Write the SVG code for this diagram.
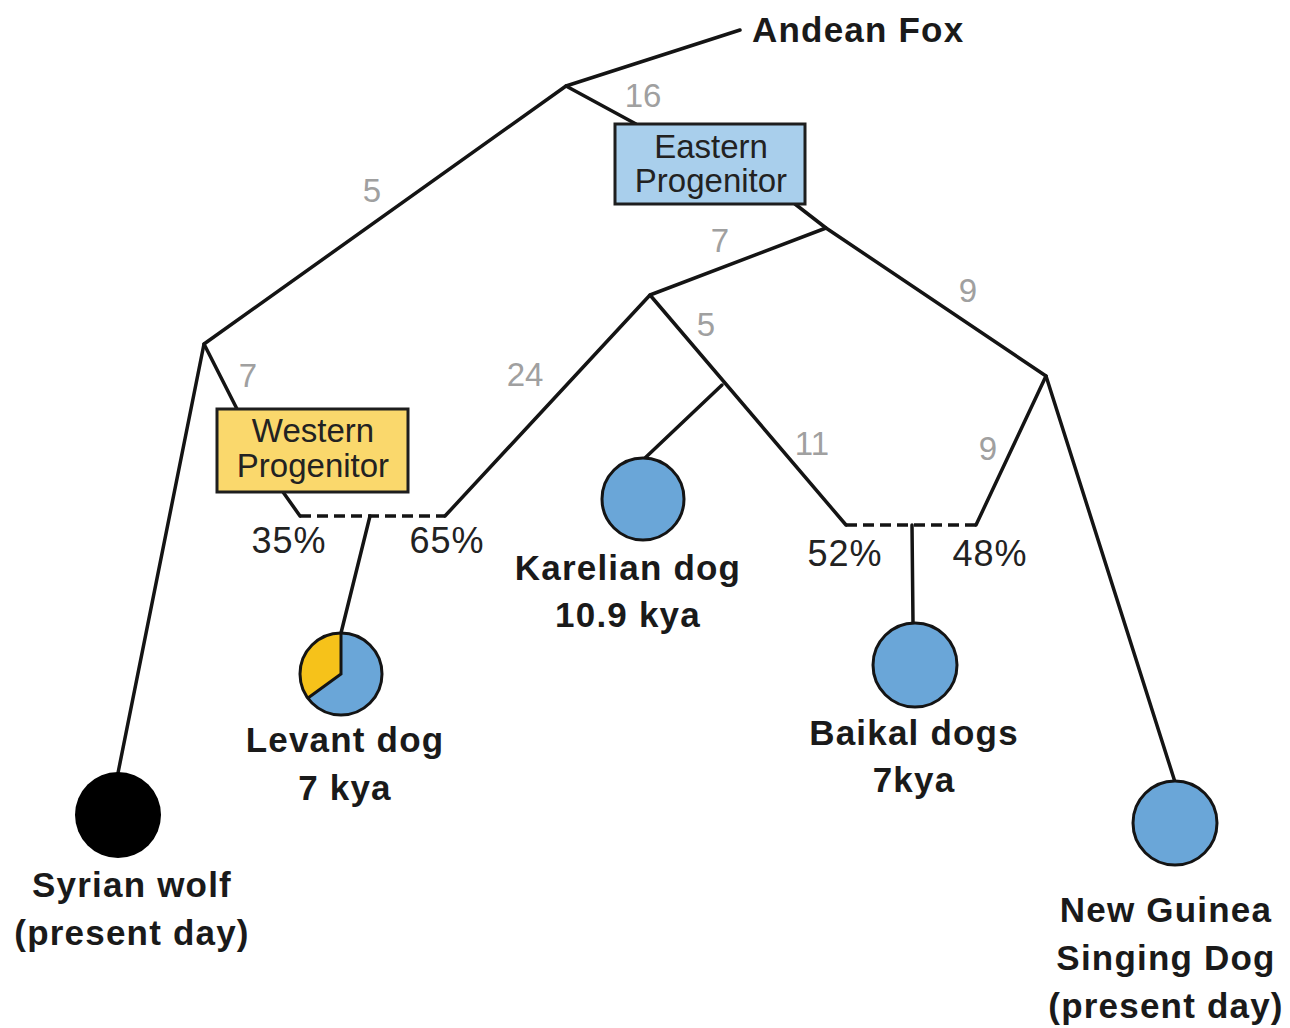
<svg xmlns="http://www.w3.org/2000/svg" width="1290" height="1028" viewBox="0 0 1290 1028">
<style>
.ln{fill:none;stroke:#141414;stroke-width:3.5;stroke-linecap:round;stroke-linejoin:round}
.ds{fill:none;stroke:#141414;stroke-width:3.5;stroke-dasharray:11 6}
.num{font-family:"Liberation Sans",Arial,sans-serif;font-size:33px;fill:#a0a0a0;text-anchor:middle}
.pct{font-family:"Liberation Sans",Arial,sans-serif;font-size:36px;fill:#222;text-anchor:middle;letter-spacing:1px}
.lab{font-family:"Liberation Sans",Arial,sans-serif;font-size:35px;font-weight:bold;fill:#1a1a1a;text-anchor:middle;letter-spacing:1.2px}
.box{font-family:"Liberation Sans",Arial,sans-serif;font-size:33px;fill:#222;text-anchor:middle}
.blue{fill:#6aa6d8;stroke:#141414;stroke-width:3}
</style>
<rect width="1290" height="1028" fill="#fff"/>
<g id="connectors">
<polyline class="ln" points="740,30 566,86 204,344 118,773"/>
<line class="ln" x1="566" y1="86" x2="636" y2="124"/>
<line class="ln" x1="204" y1="344" x2="237" y2="409"/>
<line class="ln" x1="283" y1="492" x2="300" y2="516"/>
<line class="ds" x1="300" y1="516" x2="445" y2="516"/>
<polyline class="ln" points="445,516 650,295 826,228"/>
<line class="ln" x1="370" y1="516" x2="341" y2="633"/>
<polyline class="ln" points="795,204 826,228 1046,376 1175,782"/>
<polyline class="ln" points="650,295 846,525"/>
<line class="ln" x1="722" y1="385" x2="645" y2="458"/>
<line class="ds" x1="846" y1="525" x2="976" y2="525"/>
<line class="ln" x1="976" y1="525" x2="1046" y2="376"/>
<line class="ln" x1="912" y1="525" x2="913" y2="623"/>
</g>
<g id="labels-branch">
<text class="num" x="643" y="107">16</text>
<text class="num" x="372" y="202">5</text>
<text class="num" x="720" y="252">7</text>
<text class="num" x="968" y="302">9</text>
<text class="num" x="706" y="336">5</text>
<text class="num" x="525" y="386">24</text>
<text class="num" x="248" y="387">7</text>
<text class="num" x="812" y="455">11</text>
<text class="num" x="988" y="460">9</text>
</g>
<g id="labels-pct">
<text class="pct" x="289" y="553">35%</text>
<text class="pct" x="447" y="553">65%</text>
<text class="pct" x="845" y="566">52%</text>
<text class="pct" x="990" y="566">48%</text>
</g>
<g id="andean-fox">
<text class="lab" x="752" y="42" style="text-anchor:start">Andean Fox</text>
</g>
<g id="eastern-progenitor">
<rect x="615" y="124" width="190" height="80" fill="#a9cfec" stroke="#1e1e1e" stroke-width="3"/>
<text class="box" x="711" y="158">Eastern</text>
<text class="box" x="711" y="192">Progenitor</text>
</g>
<g id="western-progenitor">
<rect x="217" y="409" width="191" height="83" fill="#fad86c" stroke="#1e1e1e" stroke-width="3"/>
<text class="box" x="313" y="442">Western</text>
<text class="box" x="313" y="477">Progenitor</text>
</g>
<g id="syrian-wolf">
<circle cx="118" cy="815" r="43" fill="#000"/>
<text class="lab" x="132" y="897">Syrian wolf</text>
<text class="lab" x="132" y="945">(present day)</text>
</g>
<g id="levant-dog">
<circle cx="341" cy="674" r="41" fill="#6aa6d8"/>
<path d="M341,674 L341,633 A41,41 0 0 0 308,698 Z" fill="#f6c21a"/>
<polyline points="341,633 341,674 308,698" fill="none" stroke="#141414" stroke-width="3"/>
<circle cx="341" cy="674" r="41" fill="none" stroke="#141414" stroke-width="3"/>
<text class="lab" x="345" y="752">Levant dog</text>
<text class="lab" x="345" y="800">7 kya</text>
</g>
<g id="karelian-dog">
<circle class="blue" cx="643" cy="499" r="41"/>
<text class="lab" x="628" y="580">Karelian dog</text>
<text class="lab" x="628" y="627">10.9 kya</text>
</g>
<g id="baikal-dogs">
<circle class="blue" cx="915" cy="665" r="42"/>
<text class="lab" x="914" y="745">Baikal dogs</text>
<text class="lab" x="914" y="792">7kya</text>
</g>
<g id="new-guinea">
<circle class="blue" cx="1175" cy="823" r="42"/>
<text class="lab" x="1166" y="922">New Guinea</text>
<text class="lab" x="1166" y="970">Singing Dog</text>
<text class="lab" x="1166" y="1018">(present day)</text>
</g>
</svg>
